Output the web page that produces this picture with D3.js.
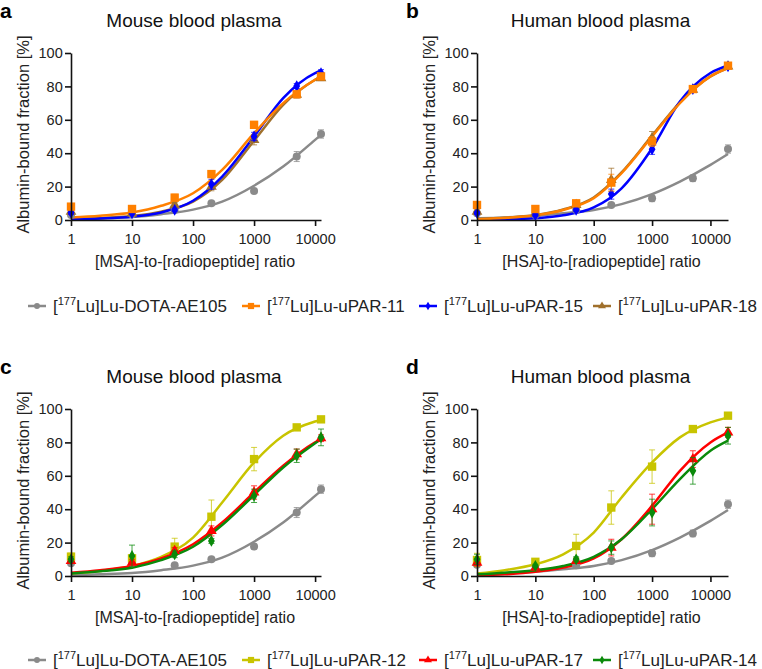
<!DOCTYPE html>
<html>
<head>
<meta charset="utf-8">
<script src="https://cdn.jsdelivr.net/npm/d3@7"></script>
<style>
  body { margin: 0; background: #fff; }
  svg { font-family: "Liberation Sans", Arial, sans-serif; }
</style>
</head>
<body>
<svg id="chart" width="762" height="669"></svg>
<script>
// measured ratios
const msaRatio = [1, 10, 50, 200, 1000, 5000, 12500];
const hsaRatio = [1, 10, 50, 200, 1000, 5000, 20000];
const fitMsa = [1, 3, 10, 30, 100, 300, 1000, 3000, 10000, 12500];
const fitHsa = [1, 3, 10, 30, 100, 300, 1000, 3000, 10000, 20000];
const xTicks = [1, 10, 100, 1000, 10000];
const yTicks = [0, 20, 40, 60, 80, 100];

// panel a - mouse, first set
const aDota = [3, 3.5, 6, 10, 17.4, 38, 51.5];
const aDotaErr = [0.8, 0.8, 0.8, 1, 1.5, 3, 2.5];
const aDotaFit = [0.5, 1, 1.8, 3.5, 6.2, 11, 20.5, 32, 48, 51];
const a11 = [8, 6.6, 13.4, 27.5, 57, 75.3, 86];
const a11Err = [1, 1, 2, 1.5, 2, 1.5, 1.5];
const a11Fit = [1.5, 2.6, 4.5, 8.5, 16, 30, 52, 70, 84, 86];
const a15 = [4.4, 4, 6, 21.4, 50, 80.2, 88];
const a15Err = [1, 0.8, 1, 3, 2.5, 1.5, 2];
const a15Fit = [0.4, 0.9, 2, 4.5, 11.5, 26, 50, 73, 88, 89.5];
const a18 = [5, 4, 9, 20, 48, 75, 85];
const a18Err = [1, 1, 1.5, 2.5, 3, 2, 1.5];
const a18Fit = [0.5, 1.1, 2.4, 5, 11, 24, 47.5, 69, 84, 86];

// panel b - human, first set
const bDota = [4, 3, 6, 9, 13, 25, 42.5];
const bDotaErr = [0.8, 0.8, 0.8, 1, 2, 2, 2.5];
const bDotaFit = [1, 1.5, 2.5, 4, 6, 9.5, 15.5, 23, 33, 39.5];
const b11 = [9, 6.6, 10, 22.4, 47, 78.4, 92.4];
const b11Err = [1, 1, 1, 5, 3, 1, 1];
const b11Fit = [0.5, 1.2, 2.8, 6, 13, 28, 50, 70, 86, 91];
const b15 = [4.2, 3, 6, 15.5, 42.3, 78.4, 92];
const b15Err = [0.8, 1, 1, 3, 3, 1, 1];
const b15Fit = [0.1, 0.3, 1, 2.8, 7.5, 19, 43, 71, 88, 92.5];
const b18 = [5, 4, 9, 24, 49, 78, 92];
const b18Err = [1, 1, 1, 7, 4, 1, 1];
const b18Fit = [0.6, 1.3, 3, 6.3, 13.5, 28.5, 50.5, 70.5, 86, 91];

// panel c - mouse, second set
const cDota = [7.6, 7.6, 6.5, 10, 17.6, 38, 52];
const cDotaErr = [0.8, 0.8, 0.8, 1, 1.5, 3, 2.5];
const cDotaFit = [0.5, 1, 1.8, 3.5, 6.2, 11, 20.5, 32, 48, 51];
const c12 = [11.6, 10.6, 17.6, 35.5, 70, 89, 93.8];
const c12Err = [2, 2, 5, 10, 7, 1.5, 1];
const c12Fit = [1.5, 3, 6, 11.5, 23, 44, 68, 84, 92.5, 93.5];
const c17 = [9, 8, 15, 27, 50, 73, 82.5];
const c17Err = [1.5, 2, 2, 3, 4, 3, 2];
const c17Fit = [2, 3.5, 6, 10.5, 19, 32, 50, 66, 80, 82];
const c14 = [10, 12, 13, 21, 48, 72, 83];
const c14Err = [1.5, 6.5, 2, 1.5, 4, 4, 5];
const c14Fit = [1.5, 2.8, 5, 9.5, 17.5, 30.5, 48.5, 65, 79.5, 82];

// panel d - human, second set
const dDota = [6.7, 6.7, 6.5, 9, 13.6, 25.5, 43];
const dDotaErr = [0.8, 0.8, 0.8, 1, 2, 2, 2.5];
const dDotaFit = [1, 1.5, 2.5, 4, 6, 9.5, 15.5, 23, 33, 39.5];
const d12 = [9.6, 8.5, 18, 41, 65.5, 88, 96];
const d12Err = [4, 1.5, 7, 10, 10, 1.5, 1];
const d12Fit = [1.5, 3.5, 7, 13, 26, 47, 68, 83, 92, 95];
const d17 = [8, 5, 9, 17, 40, 70, 86];
const d17Err = [2, 1, 1.5, 5, 9, 5, 3];
const d17Fit = [0.3, 1, 2.5, 5, 10.5, 22, 42, 63, 80, 86];
const d14 = [10, 6, 10, 17, 38, 63, 84];
const d14Err = [3, 1, 1.5, 4, 8, 8, 5];
const d14Fit = [1, 2, 3.5, 6, 11.5, 22, 40, 58, 75, 81];

const legendTop = ["DOTA-AE105", "uPAR-11", "uPAR-15", "uPAR-18"];
const legendBottom = ["DOTA-AE105", "uPAR-12", "uPAR-17", "uPAR-14"];

const gray = "#8a8a8a", orange = "#ff8000", blue = "#0000ff", brown = "#a0702c",
      olive = "#c8c400", red = "#ff0000", green = "#0a8a0a";

const svg = d3.select("#chart");

function marker(g, shape, color, cx, cy, k) {
  k = k || 1;
  if (shape === "circle") {
    g.append("circle").attr("cx", cx).attr("cy", cy).attr("r", 4 * Math.sqrt(k)).attr("fill", color);
  } else {
    const type = {square: d3.symbolSquare, diamond: d3.symbolDiamond, triangle: d3.symbolTriangle}[shape];
    const size = {square: 70, diamond: 40, triangle: 50}[shape] * k;
    g.append("path").attr("d", d3.symbol(type, size)())
      .attr("transform", `translate(${cx},${cy})`).attr("fill", color);
  }
}

function drawPanel(p) {
  const x = d3.scaleLog().domain([1, p.xs[p.xs.length - 1]]).range([p.left, p.right]);
  const y = d3.scaleLinear().domain([0, 100]).range([p.bottom, p.top]);
  const g = svg.append("g");

  g.append("text").attr("x", p.letterX).attr("y", p.top - 35).attr("font-size", 21)
    .attr("font-weight", "bold").text(p.letter);
  g.append("text").attr("x", (p.left + p.right) / 2 - 2).attr("y", p.top - 26)
    .attr("text-anchor", "middle").attr("font-size", 19).attr("fill", "#111").text(p.title);

  const line = d3.line().x(d => x(d[0])).y(d => y(d[1])).curve(d3.curveMonotoneX);

  p.series.forEach(s => {
    g.append("path").datum(p.fitX.map((v, i) => [v, s.fit[i]]))
      .attr("d", line).attr("fill", "none").attr("stroke", s.color).attr("stroke-width", 2.5);
  });

  p.series.forEach(s => {
    s.vals.forEach((v, i) => {
      const cx = x(p.xs[i]);
      const e = s.err[i];
      g.append("line").attr("x1", cx).attr("x2", cx).attr("y1", y(v - e)).attr("y2", y(v + e))
        .attr("stroke", s.color).attr("stroke-width", 1).attr("opacity", 0.75);
      [v - e, v + e].forEach(t => {
        g.append("line").attr("x1", cx - 3).attr("x2", cx + 3).attr("y1", y(t)).attr("y2", y(t))
          .attr("stroke", s.color).attr("stroke-width", 1).attr("opacity", 0.75);
      });
      marker(g, s.shape, s.color, cx, y(v));
    });
  });

  const xAxis = g.append("g").attr("transform", `translate(0,${p.bottom})`)
    .call(d3.axisBottom(x).tickValues(xTicks).tickFormat(d3.format("d")).tickSize(6).tickSizeOuter(0));
  const yAxis = g.append("g").attr("transform", `translate(${p.left},0)`)
    .call(d3.axisLeft(y).tickValues(yTicks).tickSize(6).tickSizeOuter(0));
  [xAxis, yAxis].forEach(a => {
    a.select(".domain").attr("stroke", "#111").attr("stroke-width", 1.6);
    a.selectAll(".tick line").attr("stroke", "#111").attr("stroke-width", 1.6);
    a.selectAll(".tick text").attr("font-size", 14.5).attr("fill", "#222")
      .attr("font-family", "Liberation Sans, Arial, sans-serif");
  });
  xAxis.selectAll(".tick text").attr("dy", "1em");
  yAxis.selectAll(".tick text").attr("dx", "0.05em");

  g.append("text").attr("x", (p.left + p.right) / 2 - 1).attr("y", p.bottom + 47)
    .attr("text-anchor", "middle").attr("font-size", 16).attr("fill", "#222").text(p.xLabel);
  g.append("text").attr("transform", `translate(${p.left - 42},${(p.top + p.bottom) / 2 - 2}) rotate(-90)`)
    .attr("text-anchor", "middle").attr("font-size", 16.5).attr("fill", "#222")
    .text("Albumin-bound fraction [%]");
}

function drawLegend(names, colors, shapes, baseline) {
  const markerX = [37, 251, 428, 602];
  const g = svg.append("g");
  names.forEach((n, i) => {
    const cy = baseline - 6;
    g.append("line").attr("x1", markerX[i] - 9).attr("x2", markerX[i] + 9).attr("y1", cy).attr("y2", cy)
      .attr("stroke", colors[i]).attr("stroke-width", 2.5);
    marker(g, shapes[i], colors[i], markerX[i], cy, 0.55);
    const t = g.append("text").attr("x", markerX[i] + 16).attr("y", baseline)
      .attr("font-size", 17).attr("fill", "#222");
    t.append("tspan").text("[");
    t.append("tspan").attr("font-size", 11).attr("dy", -7).text("177");
    t.append("tspan").attr("dy", 7).text("Lu]Lu-" + n);
  });
}

drawPanel({letter: "a", letterX: 0, title: "Mouse blood plasma", xLabel: "[MSA]-to-[radiopeptide] ratio",
  left: 71, right: 321, top: 53, bottom: 220, xs: msaRatio, fitX: fitMsa, series: [
  {vals: aDota, err: aDotaErr, fit: aDotaFit, color: gray, shape: "circle"},
  {vals: a18, err: a18Err, fit: a18Fit, color: brown, shape: "triangle"},
  {vals: a15, err: a15Err, fit: a15Fit, color: blue, shape: "diamond"},
  {vals: a11, err: a11Err, fit: a11Fit, color: orange, shape: "square"}
]});

drawPanel({letter: "b", letterX: 406, title: "Human blood plasma", xLabel: "[HSA]-to-[radiopeptide] ratio",
  left: 477, right: 728, top: 53, bottom: 220, xs: hsaRatio, fitX: fitHsa, series: [
  {vals: bDota, err: bDotaErr, fit: bDotaFit, color: gray, shape: "circle"},
  {vals: b18, err: b18Err, fit: b18Fit, color: brown, shape: "triangle"},
  {vals: b15, err: b15Err, fit: b15Fit, color: blue, shape: "diamond"},
  {vals: b11, err: b11Err, fit: b11Fit, color: orange, shape: "square"}
]});

drawPanel({letter: "c", letterX: 0, title: "Mouse blood plasma", xLabel: "[MSA]-to-[radiopeptide] ratio",
  left: 71, right: 321, top: 409, bottom: 576, xs: msaRatio, fitX: fitMsa, series: [
  {vals: cDota, err: cDotaErr, fit: cDotaFit, color: gray, shape: "circle"},
  {vals: c12, err: c12Err, fit: c12Fit, color: olive, shape: "square"},
  {vals: c17, err: c17Err, fit: c17Fit, color: red, shape: "triangle"},
  {vals: c14, err: c14Err, fit: c14Fit, color: green, shape: "diamond"}
]});

drawPanel({letter: "d", letterX: 406, title: "Human blood plasma", xLabel: "[HSA]-to-[radiopeptide] ratio",
  left: 477, right: 728, top: 409, bottom: 576, xs: hsaRatio, fitX: fitHsa, series: [
  {vals: dDota, err: dDotaErr, fit: dDotaFit, color: gray, shape: "circle"},
  {vals: d12, err: d12Err, fit: d12Fit, color: olive, shape: "square"},
  {vals: d17, err: d17Err, fit: d17Fit, color: red, shape: "triangle"},
  {vals: d14, err: d14Err, fit: d14Fit, color: green, shape: "diamond"}
]});

drawLegend(legendTop, [gray, orange, blue, brown], ["circle", "square", "diamond", "triangle"], 312);
drawLegend(legendBottom, [gray, olive, red, green], ["circle", "square", "triangle", "diamond"], 666);
</script>
</body>
</html>
